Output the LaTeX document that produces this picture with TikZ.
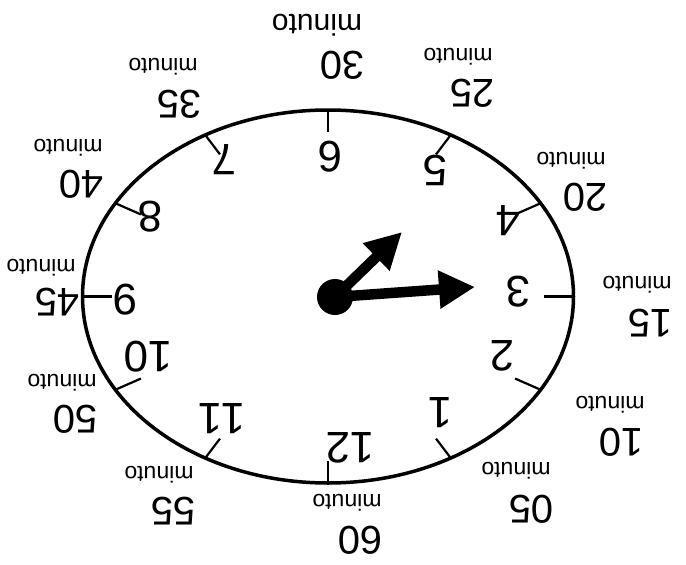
\documentclass[tikz,border=0pt]{standalone}
\usepackage{fontspec}
\setmainfont{Liberation Sans}
\usetikzlibrary{arrows.meta,calc}
\begin{document}
\begin{tikzpicture}[x=1pt,y=-1pt,
  hourlab/.style={rotate=180,inner sep=0pt,font=\fontsize{44}{44}\selectfont},
  minnum/.style={rotate=180,inner sep=0pt,font=\fontsize{40}{40}\selectfont},
  minword/.style={rotate=180,inner sep=0pt,font=\fontsize{23}{23}\selectfont},
  bigword/.style={rotate=180,inner sep=0pt,font=\fontsize{30}{30}\selectfont},
  rim/.style={line width=3.5pt},
  tickmark/.style={line width=2.2pt},
  hand/.style={line width=10.5pt,-{Triangle[length=36pt,width=36pt]}}
]
\fill[white] (0,0) rectangle (686,565);
\useasboundingbox (0,0) rectangle (686,565);
\coordinate (c) at (328,296.5);
\draw[rim] (c) ellipse [x radius=245.5, y radius=186.5];
\foreach \h in {1,...,12}{
  \pgfmathsetmacro\ang{90-30*\h}
  \coordinate (e\h) at ({328+245.5*cos(\ang)},{296.5+186.5*sin(\ang)});
  \draw[tickmark] (e\h) -- ($(c)!0.88!(e\h)$);
}
% hands
\coordinate (pivot) at (335,297);
\coordinate (tipA) at (475,287);
\coordinate (tipB) at (402,232);
\draw[hand] (pivot) -- (tipA);
\draw[hand] (pivot) -- (tipB);
\fill (pivot) circle [radius=18];
% hour numerals
\node[hourlab] (h1) at (440,413) {1};
\node[hourlab] (h2) at (502,356) {2};
\node[hourlab] (h3) at (518,292) {3};
\node[hourlab] (h4) at (508,221) {4};
\node[hourlab] (h5) at (435,170) {5};
\node[hourlab] (h6) at (330,157) {6};
\node[hourlab] (h7) at (224,160) {7};
\node[hourlab] (h8) at (150,217) {8};
\node[hourlab] (h9) at (125,300) {9};
\node[hourlab] (h10) at (148,357) {10};
\node[hourlab] (h11) at (222,419) {1\kern-2pt 1};
\node[hourlab] (h12) at (350,448) {12};
% minute labels
\node[minnum] (n30) at (342,65) {30};
\node[bigword] (w30) at (317,25) {minuto};
\node[minnum] (n25) at (472,93) {25};
\node[minword] (w25) at (458,57) {minuto};
\node[minnum] (n20) at (585,197) {20};
\node[minword] (w20) at (571,161) {minuto};
\node[minnum] (n15) at (650,323) {15};
\node[minword] (w15) at (637,285) {minuto};
\node[minnum] (n10) at (621,442) {10};
\node[minword] (w10) at (610,405) {minuto};
\node[minnum] (n05) at (531,509) {05};
\node[minword] (w05) at (516,471) {minuto};
\node[minnum] (n60) at (360,540) {60};
\node[minword] (w60) at (347,503) {minuto};
\node[minnum] (n55) at (173,511) {55};
\node[minword] (w55) at (159,475) {minuto};
\node[minnum] (n50) at (75,419) {50};
\node[minword] (w50) at (62,383) {minuto};
\node[minnum] (n45) at (57,302) {45};
\node[minword] (w45) at (41,268) {minuto};
\node[minnum] (n40) at (81,184) {40};
\node[minword] (w40) at (68,148) {minuto};
\node[minnum] (n35) at (179,104) {35};
\node[minword] (w35) at (163,67) {minuto};
\end{tikzpicture}
\end{document}
